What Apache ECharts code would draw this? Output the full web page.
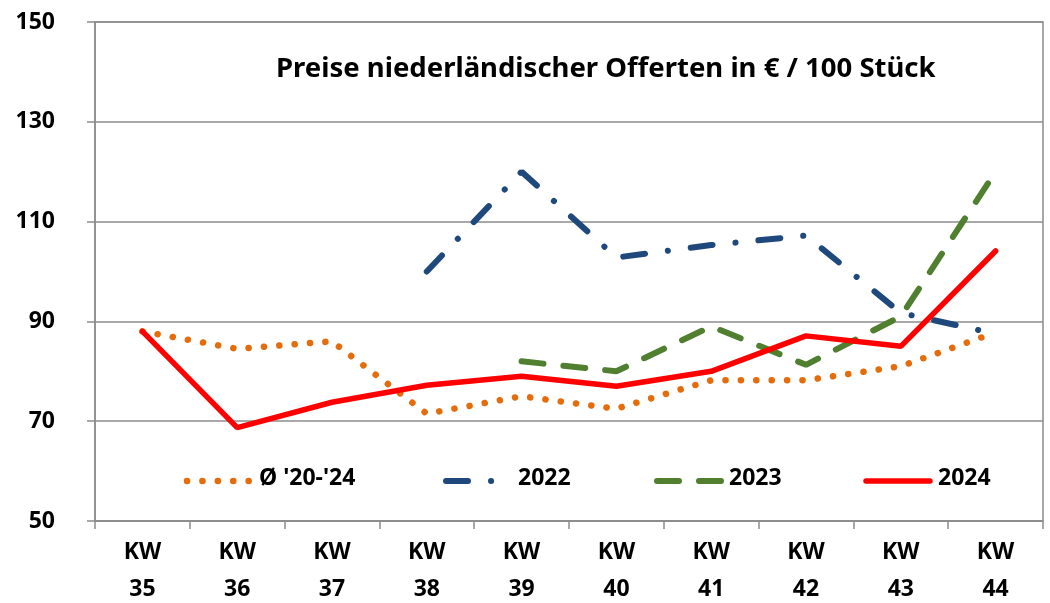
<!DOCTYPE html>
<html>
<head>
<meta charset="utf-8">
<script src="https://cdn.jsdelivr.net/npm/echarts@6/dist/echarts.min.js"></script>
<style>
  html, body { margin: 0; padding: 0; background: #fff; }
  #chart { width: 1050px; height: 603px; }
</style>
</head>
<body>
<div id="chart"></div>
<script>
// Kalenderwochen
const weeks = ["KW\n35", "KW\n36", "KW\n37", "KW\n38", "KW\n39", "KW\n40", "KW\n41", "KW\n42", "KW\n43", "KW\n44"];
// Durchschnitt 2020-2024
const avg2024 = [88, 84.5, 86, 71.5, 75, 72.5, 78.2, 78.2, 81, 87.8];
const y2022 = [null, null, null, 100, 120, 102.8, 105.3, 107.2, 91.7, 87.5];
const y2023 = [null, null, null, null, 82, 80, 89, 81.3, 91, 120];
const y2024 = [88, 68.7, 73.8, 77.2, 79, 77, 80, 87.1, 85, 104.1];
const yTicks = [50, 70, 90, 110, 130, 150];

const font = "Noto Sans";
const chart = echarts.init(document.getElementById("chart"));

// Linienstile, auch für die Legende benutzt
const styles = [
  { name: "Ø '20-'24", color: "#E46C0A", width: 6.5, dash: [0.1, 15.3], x: 187 },
  { name: "2022", color: "#1F497D", width: 6, dash: [22, 23, 0.1, 23], x: 446 },
  { name: "2023", color: "#4F7F2F", width: 6, dash: [22, 20], x: 657 },
  { name: "2024", color: "#FF0000", width: 5.5, dash: null, x: 866 },
];

// Legende von Hand, damit die Linienmuster wie im Original aussehen
const legendGraphics = [];
styles.forEach((s) => {
  legendGraphics.push({
    type: "line",
    shape: { x1: s.x, y1: 481, x2: s.x + 64, y2: 481 },
    style: {
      stroke: s.color, lineWidth: s.width, lineCap: "round",
      lineDash: s.dash,
    },
  });
  legendGraphics.push({
    type: "text",
    left: s.x + 72,
    top: 467,
    style: { text: s.name, fontFamily: font, fontWeight: "bold", fontSize: 23, fill: "#000" },
  });
});

chart.setOption({
  animation: false,
  title: {
    text: "Preise niederländischer Offerten in € / 100 Stück",
    left: 271,
    top: 50,
    textStyle: { fontFamily: font, fontWeight: "bold", fontSize: 27.5, color: "#000" },
  },
  graphic: legendGraphics,
  grid: {
    left: 95, right: 7, top: 22, bottom: 82,
    outerBoundsMode: "none",
    show: true, borderColor: "#8c8c8c", borderWidth: 1.5,
  },
  xAxis: {
    type: "category",
    data: weeks,
    boundaryGap: true,
    axisLine: { lineStyle: { color: "#8c8c8c", width: 1.5 } },
    axisTick: { show: true, length: 8, lineStyle: { color: "#8c8c8c", width: 1.5 } },
    axisLabel: {
      color: "#000", fontFamily: font, fontWeight: "bold", fontSize: 23,
      lineHeight: 37, margin: 13,
    },
  },
  yAxis: {
    type: "value",
    min: yTicks[0],
    max: yTicks[yTicks.length - 1],
    interval: 20,
    axisLine: { show: true, lineStyle: { color: "#8c8c8c", width: 1.5 } },
    axisTick: { show: true, length: 8, lineStyle: { color: "#8c8c8c", width: 1.5 } },
    splitLine: { lineStyle: { color: "#8c8c8c", width: 1.5 } },
    axisLabel: {
      color: "#000", fontFamily: font, fontWeight: "bold", fontSize: 23, margin: 40,
    },
  },
  series: [avg2024, y2022, y2023, y2024].map((vals, i) => ({
    name: styles[i].name,
    type: "line",
    data: vals,
    symbol: "none",
    color: styles[i].color,
    lineStyle: {
      color: styles[i].color,
      width: styles[i].width,
      type: styles[i].dash || "solid",
      cap: "round",
    },
  })),
});
</script>
</body>
</html>
